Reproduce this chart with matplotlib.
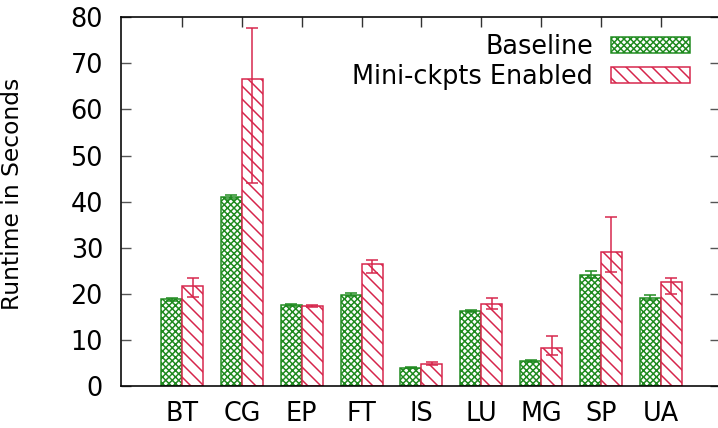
import matplotlib
matplotlib.use("Agg")
import matplotlib.pyplot as plt
from matplotlib.patches import Patch
import numpy as np

categories = ["BT", "CG", "EP", "FT", "IS", "LU", "MG", "SP", "UA"]
base_mean = [18.8, 41.0, 17.5, 19.8, 4.0, 16.3, 5.5, 24.0, 19.0]
base_low  = [18.5, 40.6, 17.4, 19.5, 3.9, 16.1, 5.3, 23.4, 18.6]
base_high = [19.1, 41.5, 17.7, 20.1, 4.2, 16.5, 5.7, 25.0, 19.8]
mini_mean = [21.8, 66.6, 17.4, 26.5, 4.8, 17.8, 8.3, 29.0, 22.6]
mini_low  = [19.3, 44.0, 17.2, 24.6, 4.5, 16.8, 6.7, 24.8, 20.0]
mini_high = [23.5, 77.6, 17.6, 27.3, 5.1, 19.2, 10.8, 36.7, 23.4]
yticks = [0, 10, 20, 30, 40, 50, 60, 70, 80]

DPI = 78
PT = 72.0 / DPI  # pixel -> point
W, H = 718, 428
GREEN = "#1f8a1f"
RED = "#d6244a"
HATCH_G = "xxxx"
HATCH_R = "\\\\"

plt.rcParams["font.family"] = ["DejaVu Sans"]
plt.rcParams["hatch.linewidth"] = 1.5 * PT

fig = plt.figure(figsize=(W / DPI, H / DPI), dpi=DPI)
ax = fig.add_axes([121 / W, 1 - 386 / H, (719.5 - 121) / W, (386 - 17.3) / H])

x = np.arange(len(categories))
bw = 0.35
FPX = 25.5
fs = FPX * PT

ax.bar(x - bw / 2, base_mean, bw, facecolor="white", edgecolor=GREEN,
       hatch=HATCH_G, linewidth=1.5 * PT, zorder=2)
ax.bar(x + bw / 2, mini_mean, bw, facecolor="white", edgecolor=RED,
       hatch=HATCH_R, linewidth=1.5 * PT, zorder=2)

bm = np.array(base_mean); mm = np.array(mini_mean)
ax.errorbar(x - bw / 2, bm, yerr=[bm - np.array(base_low), np.array(base_high) - bm],
            fmt="none", ecolor=GREEN, elinewidth=1.5 * PT, capsize=6 * PT,
            capthick=1.5 * PT, zorder=3)
ax.errorbar(x + bw / 2, mm, yerr=[mm - np.array(mini_low), np.array(mini_high) - mm],
            fmt="none", ecolor=RED, elinewidth=1.5 * PT, capsize=6 * PT,
            capthick=1.5 * PT, zorder=3)

ax.set_xlim(-1.02, 8.98)
ax.set_ylim(0, 80)
ax.set_yticks(yticks)
ax.set_xticks(x)
ax.set_xticklabels(categories)

for s in ax.spines.values():
    s.set_linewidth(1.6 * PT)
    s.set_color("black")

ax.tick_params(axis="y", direction="in", length=10 * PT, width=1.4 * PT,
               color="#555555", left=True, right=True, labelsize=fs,
               pad=18 * PT)
ax.tick_params(axis="x", direction="in", length=10 * PT, width=1.4 * PT,
               color="#333333", bottom=False, top=True, labelsize=fs,
               pad=15 * PT)

ax.set_ylabel("Runtime in Seconds", fontsize=23.4 * PT)
ax.yaxis.set_label_coords((24 - 121) / (719.5 - 121), 0.52)

handles = [Patch(facecolor="white", edgecolor=GREEN, hatch=HATCH_G, linewidth=1.5 * PT),
           Patch(facecolor="white", edgecolor=RED, hatch=HATCH_R, linewidth=1.5 * PT)]
leg = fig.legend(handles, ["Baseline", "Mini-ckpts Enabled"], loc="upper right",
                 bbox_to_anchor=(689.5 / W, 1 - 34 / H), frameon=False,
                 markerfirst=False, fontsize=fs, handlelength=79 / FPX,
                 handleheight=16 / FPX, handletextpad=17.5 / FPX,
                 labelspacing=0.15, borderpad=0, borderaxespad=0)

fig.savefig("out.png", dpi=DPI)
